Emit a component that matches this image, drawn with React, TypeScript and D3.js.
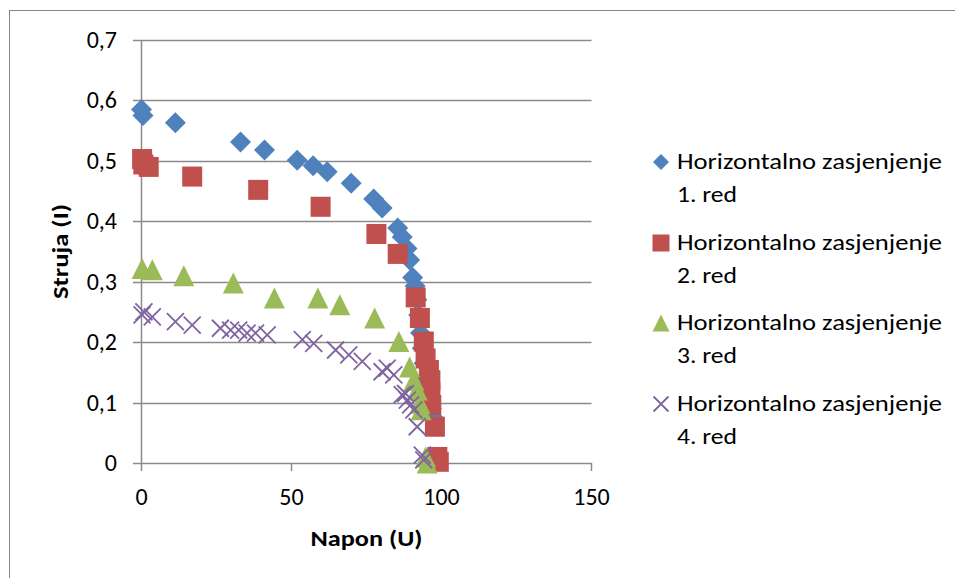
import React from "react";
import * as d3 from "d3";

const xTicks = [0, 50, 100, 150];
const yTicks = [0, 0.1, 0.2, 0.3, 0.4, 0.5, 0.6, 0.7];

const seriesNames = [
  "Horizontalno zasjenjenje 1. red",
  "Horizontalno zasjenjenje 2. red",
  "Horizontalno zasjenjenje 3. red",
  "Horizontalno zasjenjenje 4. red",
];

const red1U = [0, 0.5, 11.3, 33, 41, 51.9, 57.2, 61.9, 69.9, 77.4, 80.2, 85.4, 86.9, 88.5, 89.4, 90.4, 91.2, 91.8, 92.4, 93, 93.6, 94.2, 95, 95.8, 96.6, 97.3, 97.5];
const red1I = [0.585, 0.575, 0.563, 0.531, 0.518, 0.501, 0.492, 0.482, 0.463, 0.437, 0.422, 0.389, 0.374, 0.355, 0.336, 0.307, 0.293, 0.27, 0.245, 0.215, 0.19, 0.165, 0.14, 0.115, 0.09, 0.075, 0.0];

const red2U = [0.2, 0.6, 2.4, 16.9, 38.9, 59.7, 78.3, 85.4, 91.4, 92.8, 94.1, 94.7, 95.8, 96.3, 96.3, 96.6, 97.8, 98.6, 99.1];
const red2I = [0.503, 0.494, 0.49, 0.474, 0.452, 0.424, 0.379, 0.346, 0.274, 0.24, 0.201, 0.173, 0.154, 0.137, 0.116, 0.096, 0.06, 0.01, 0.002];

const red3U = [0.2, 3.6, 14.1, 30.6, 44.3, 58.8, 66.1, 77.7, 85.8, 89.4, 90.8, 91.9, 92.8, 93.2, 94.7, 95.2];
const red3I = [0.322, 0.32, 0.31, 0.298, 0.273, 0.273, 0.262, 0.24, 0.201, 0.159, 0.137, 0.121, 0.099, 0.088, 0.01, 0.0];

const red4U = [0.2, 0.8, 3.6, 11.3, 16.9, 26.3, 29.7, 32.4, 35.2, 38, 41.9, 53.6, 57.4, 64.7, 69.1, 73.6, 80.2, 81.9, 84.1, 86.9, 88, 88.6, 89.7, 90.8, 91.9, 93.6, 94.1];
const red4I = [0.245, 0.25, 0.242, 0.234, 0.228, 0.223, 0.22, 0.22, 0.215, 0.215, 0.212, 0.204, 0.198, 0.187, 0.179, 0.168, 0.151, 0.157, 0.146, 0.113, 0.115, 0.104, 0.096, 0.088, 0.06, 0.013, 0.005];

const colors = ["#4F81BD", "#C0504D", "#9BBB59", "#8064A2"];
const FONT = "Carlito, Lato, 'Open Sans', sans-serif";

type Pt = { u: number; i: number };
const zip = (u: number[], i: number[]): Pt[] => u.map((v, k) => ({ u: v, i: i[k] }));

function Marker({ kind, x, y, s }: { kind: number; x: number; y: number; s: number }) {
  const c = colors[kind];
  if (kind === 0) {
    const h = s / 2;
    return <path d={`M${x},${y - h}L${x + h},${y}L${x},${y + h}L${x - h},${y}Z`} fill={c} />;
  }
  if (kind === 1) {
    return <rect x={x - s / 2} y={y - s / 2} width={s} height={s} fill={c} />;
  }
  if (kind === 2) {
    const h = s * 0.5;
    return <path d={`M${x},${y - h}L${x + s / 2},${y + h}L${x - s / 2},${y + h}Z`} fill={c} />;
  }
  const h = s / 2;
  return (
    <path d={`M${x - h},${y - h}L${x + h},${y + h}M${x - h},${y + h}L${x + h},${y - h}`} stroke={c} strokeWidth={1.8} fill="none" />
  );
}

export default function App() {
  const x = d3.scaleLinear().domain([0, 150]).range([141.5, 591.5]);
  const y = d3.scaleLinear().domain([0, 0.7]).range([463, 40]);
  const series = [zip(red1U, red1I), zip(red2U, red2I), zip(red3U, red3I), zip(red4U, red4I)];
  const sizes = [21, 20, 21, 17];
  const fmt = (v: number) => d3.format(".1f")(v).replace(".", ",");
  const legendY = [162, 243, 323, 404];

  return (
    <svg width={955} height={578} style={{ position: "absolute", left: 0, top: 0, background: "#fff" }} fontFamily={FONT}>
      <rect x={9.5} y={10.5} width={1200} height={1200} fill="#fff" stroke="#868686" strokeWidth={1} />
      {yTicks.map((t) => (
        <line key={"g" + t} x1={133} x2={x(150)} y1={Math.round(y(t)) + 0.5} y2={Math.round(y(t)) + 0.5} stroke="#8a8a8a" strokeWidth={1.5} />
      ))}
      <line x1={x(0)} x2={x(0)} y1={y(0.7)} y2={y(0)} stroke="#8a8a8a" strokeWidth={1.5} />
      {xTicks.map((t) => (
        <line key={"xt" + t} x1={x(t)} x2={x(t)} y1={y(0)} y2={y(0) + 8} stroke="#8a8a8a" strokeWidth={1.5} />
      ))}
      {yTicks.map((t) => (
        <text key={"yl" + t} x={117} y={y(t) + 8} textAnchor="end" fontSize={24} fill="#000">
          {t === 0 ? "0" : fmt(t)}
        </text>
      ))}
      {xTicks.map((t) => (
        <text key={"xl" + t} x={x(t)} y={505} textAnchor="middle" fontSize={24} fill="#000">
          {t}
        </text>
      ))}
      <text x={(x(0) + x(150)) / 2} y={546} textAnchor="middle" fontSize={23} fontWeight="bold" fill="#000" textLength={112} lengthAdjust="spacingAndGlyphs">
        Napon (U)
      </text>
      <text transform={`translate(68,${(y(0) + y(0.7)) / 2}) rotate(-90)`} textAnchor="middle" fontSize={22} fontWeight="bold" fill="#000" textLength={95} lengthAdjust="spacingAndGlyphs">
        Struja (I)
      </text>
      {series.map((pts, k) => (
        <g key={"s" + k}>
          {pts.map((p, j) => (
            <Marker key={j} kind={k} x={x(p.u)} y={y(p.i)} s={sizes[k]} />
          ))}
        </g>
      ))}
      {seriesNames.map((n, k) => {
        const words = n.split(" ");
        const line1 = words.slice(0, 2).join(" ");
        const line2 = words.slice(2).join(" ");
        return (
          <g key={"lg" + k}>
            <Marker kind={k} x={661} y={legendY[k]} s={k === 0 ? 16 : k === 3 ? 15 : 17} />
            <text x={677} y={legendY[k] + 7} fontSize={23} fill="#000" textLength={265} lengthAdjust="spacingAndGlyphs">{line1}</text>
            <text x={677} y={legendY[k] + 40} fontSize={23} fill="#000" textLength={60} lengthAdjust="spacingAndGlyphs">{line2}</text>
          </g>
        );
      })}
    </svg>
  );
}
